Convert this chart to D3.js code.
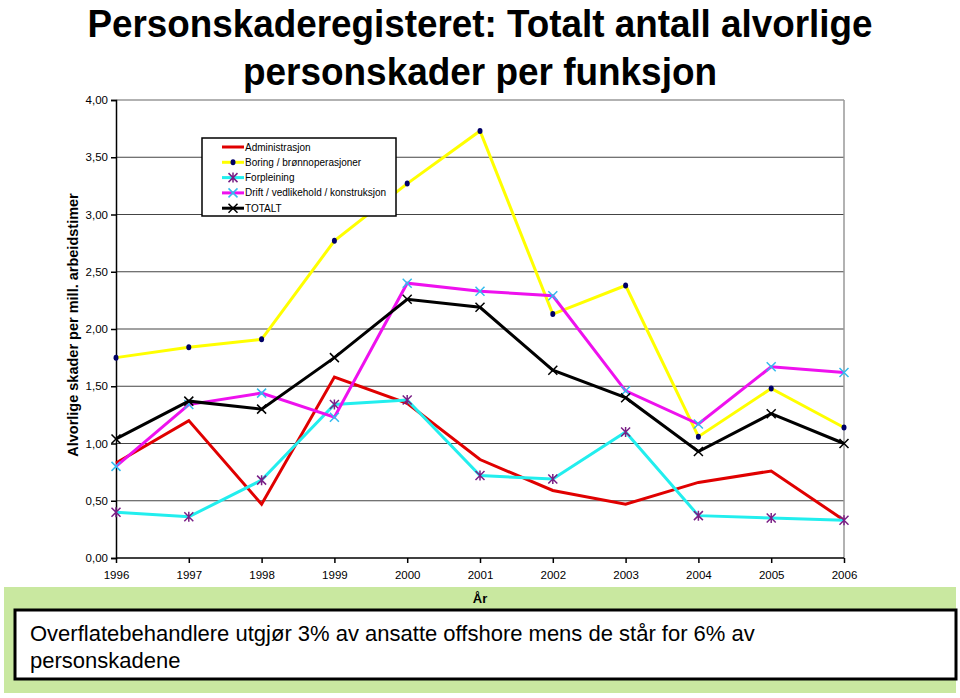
<!DOCTYPE html>
<html><head><meta charset="utf-8">
<script src="https://cdn.jsdelivr.net/npm/d3@7"></script>
<style>html,body{margin:0;padding:0;background:#fff;}svg{display:block;}</style>
</head><body>
<script>
const years = ["1996","1997","1998","1999","2000","2001","2002","2003","2004","2005","2006"];
const administrasjon = [0.83,1.20,0.47,1.58,1.35,0.86,0.59,0.47,0.66,0.76,0.33];
const boring = [1.75,1.84,1.91,2.77,3.27,3.73,2.13,2.38,1.06,1.48,1.14];
const forpleining = [0.40,0.36,0.68,1.34,1.38,0.72,0.69,1.10,0.37,0.35,0.33];
const drift = [0.80,1.34,1.44,1.23,2.40,2.33,2.29,1.46,1.17,1.67,1.62];
const totalt = [1.04,1.37,1.30,1.75,2.26,2.19,1.64,1.40,0.93,1.26,1.00];
const yTicks = [0,0.5,1,1.5,2,2.5,3,3.5,4];
const seriesNames = ["Administrasjon","Boring / brønnoperasjoner","Forpleining","Drift / vedlikehold / konstruksjon","TOTALT"];

const series = [
  {name:seriesNames[0], values:administrasjon, color:"#e00000", marker:"none"},
  {name:seriesNames[1], values:boring, color:"#ffff00", marker:"dot", mcolor:"#000066"},
  {name:seriesNames[2], values:forpleining, color:"#22eeee", marker:"star", mcolor:"#7a1f86"},
  {name:seriesNames[3], values:drift, color:"#ee11ee", marker:"x", mcolor:"#33bbee"},
  {name:seriesNames[4], values:totalt, color:"#000000", marker:"x", mcolor:"#000000"}
];

const W=960,H=698;
const svg=d3.select("body").append("svg").attr("width",W).attr("height",H);
const font="Arial, 'Liberation Sans', sans-serif";

const x=d3.scalePoint().domain(years).range([116,844]);
const y=d3.scaleLinear().domain([0,4]).range([558,100]);

// Title
svg.append("text").attr("x",480).attr("y",37).attr("text-anchor","middle")
  .attr("font-family","'Liberation Sans Narrow', Arial, sans-serif").attr("font-weight","bold").attr("font-size",39)
  .attr("textLength",785).attr("lengthAdjust","spacingAndGlyphs")
  .text("Personskaderegisteret: Totalt antall alvorlige");
svg.append("text").attr("x",480).attr("y",85).attr("text-anchor","middle")
  .attr("font-family","'Liberation Sans Narrow', Arial, sans-serif").attr("font-weight","bold").attr("font-size",39)
  .attr("textLength",474).attr("lengthAdjust","spacingAndGlyphs")
  .text("personskader per funksjon");

// gridlines
svg.append("g").selectAll("line").data(yTicks.filter(d=>d>0&&d<4)).join("line")
  .attr("x1",116).attr("x2",844).attr("y1",d=>y(d)).attr("y2",d=>y(d))
  .attr("stroke","#444").attr("stroke-width",1.2);
// top & right border
svg.append("line").attr("x1",116).attr("x2",844).attr("y1",y(4)).attr("y2",y(4)).attr("stroke","#999").attr("stroke-width",1.5);
svg.append("line").attr("x1",844).attr("x2",844).attr("y1",y(4)).attr("y2",y(0)).attr("stroke","#999").attr("stroke-width",1.5);

// axes
const fmt=d=>d3.format(".2f")(d).replace(".",",");
const yAxis=svg.append("g").attr("transform","translate(116,0)")
  .call(d3.axisLeft(y).tickValues(yTicks).tickFormat(fmt).tickSize(5).tickPadding(3));
const xAxis=svg.append("g").attr("transform","translate(0,558)")
  .call(d3.axisBottom(x).tickSize(5).tickPadding(8));
[yAxis,xAxis].forEach(a=>{
  a.select(".domain").attr("stroke","#000").attr("stroke-width",1.5);
  a.selectAll(".tick line").attr("stroke","#000").attr("stroke-width",1.5);
  a.selectAll("text").attr("font-family",font).attr("font-size",11.5).attr("fill","#000");
});
xAxis.select(".domain").attr("d","M116,0H844");

// y title
svg.append("text").attr("transform","translate(78,325) rotate(-90)").attr("text-anchor","middle")
  .attr("font-family",font).attr("font-weight","bold").attr("font-size",14.5)
  .text("Alvorlige skader per mill. arbeidstimer");

function marker(g,type,cx,cy,col){
  if(type==="dot"){
    g.append("ellipse").attr("cx",cx).attr("cy",cy).attr("rx",2.5).attr("ry",3).attr("fill",col);
  } else if(type==="x"||type==="star"){
    const s=4.5;
    g.append("path").attr("d",`M${cx-s},${cy-s}L${cx+s},${cy+s}M${cx-s},${cy+s}L${cx+s},${cy-s}`+(type==="star"?`M${cx},${cy-s-0.5}L${cx},${cy+s+0.5}`:""))
      .attr("stroke",col).attr("stroke-width",1.5).attr("fill","none");
  }
}

const line=d3.line().x((d,i)=>x(years[i])).y(d=>y(d));
series.forEach(s=>{
  const g=svg.append("g");
  g.append("path").datum(s.values).attr("d",line).attr("fill","none")
    .attr("stroke",s.color).attr("stroke-width",3).attr("stroke-linejoin","miter");
  if(s.marker!=="none") s.values.forEach((v,i)=>marker(g,s.marker,x(years[i]),y(v),s.mcolor));
});

// legend on top
const legendG=svg.append("g");
legendG.append("rect").attr("x",202).attr("y",138).attr("width",194).attr("height",78)
  .attr("fill","#fff").attr("stroke","#000").attr("stroke-width",1.5);
series.forEach((s,i)=>{
  const ly=147+i*15.3;
  legendG.append("line").attr("x1",222).attr("x2",244).attr("y1",ly).attr("y2",ly)
    .attr("stroke",s.color).attr("stroke-width",3);
  if(s.marker!=="none") marker(legendG,s.marker,233,ly,s.mcolor);
  legendG.append("text").attr("x",245).attr("y",ly).attr("dy","0.35em")
    .attr("font-family",font).attr("font-size",10).text(s.name);
});

// bottom green panel
svg.append("rect").attr("x",4).attr("y",587).attr("width",952).attr("height",106).attr("fill","#c9e8a0");
svg.append("text").attr("x",480).attr("y",603).attr("text-anchor","middle")
  .attr("font-family",font).attr("font-weight","bold").attr("font-size",13).text("År");
svg.append("rect").attr("x",15).attr("y",610).attr("width",941).attr("height",69)
  .attr("fill","#fff").attr("stroke","#000").attr("stroke-width",3);
svg.append("text").attr("x",30).attr("y",641).attr("font-family",font).attr("font-size",22)
  .text("Overflatebehandlere utgjør 3% av ansatte offshore mens de står for 6% av");
svg.append("text").attr("x",30).attr("y",668).attr("font-family",font).attr("font-size",22)
  .text("personskadene");
</script>
</body></html>
